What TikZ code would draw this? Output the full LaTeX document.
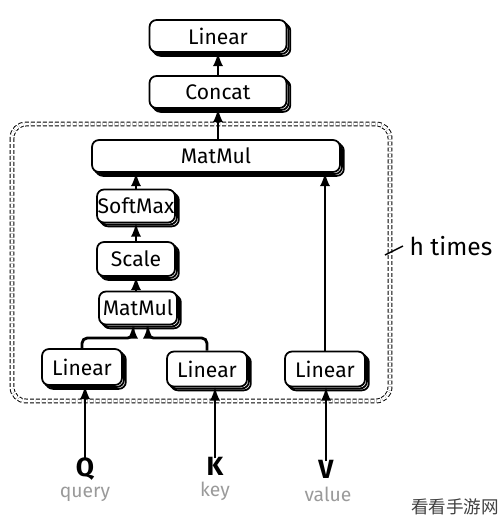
\documentclass[tikz,border=0pt]{standalone}
\usepackage{fontspec}
\setmainfont{Fira Sans}
\newfontfamily\cjkfont{Noto Sans CJK SC}
\usepackage{xcolor}
\usetikzlibrary{shadows}
\definecolor{lblgray}{HTML}{9A9A9A}
\tikzset{blk/.style={draw, line width=1pt, fill=white, rounded corners=4pt, inner sep=0pt,
    font=\fontsize{12}{14}\selectfont,
    general shadow={draw, line width=1pt, fill=white, shadow xshift=2.2pt, shadow yshift=-2.2pt},
    general shadow={draw, line width=1pt, fill=white, shadow xshift=1.1pt, shadow yshift=-1.1pt}}}
\tikzset{arr/.style={line width=1.6pt, ->}}

\begin{document}
\begin{tikzpicture}[x=0.2mm,y=-0.2mm,thick,>=latex]
    \useasboundingbox (0,0) rectangle (500,527);

    \coordinate (ma) at (133,338);
    \coordinate (mb) at (148,338);
    \coordinate (tk) at (385,255);

    % the repeated block
    \draw[dashed, double, double distance=1.7pt, line width=0.55pt, dash pattern=on 2.2pt off 1.2pt,
        rounded corners=8pt] (12,124) rectangle (390,401);

    \node[blk, minimum width=27.4mm, minimum height=6.4mm] (linout) at (218,36) {Linear};
    \node[blk, minimum width=27.4mm, minimum height=6.4mm] (concat) at (218,92) {Concat};
    \node[blk, minimum width=49.6mm, minimum height=6.4mm] (mmout) at (216,156) {MatMul};
    \node[blk, minimum width=15.6mm, minimum height=6.6mm] (smax) at (136,206) {SoftMax};
    \node[blk, minimum width=15.6mm, minimum height=6.8mm] (scale) at (136,259) {Scale};
    \node[blk, minimum width=15.6mm, minimum height=6.6mm] (mmin) at (138,308) {MatMul};
    \node[blk, minimum width=16mm, minimum height=7.2mm] (linq) at (82,367) {Linear};
    \node[blk, minimum width=16mm, minimum height=7mm] (link) at (207,369) {Linear};
    \node[blk, minimum width=16mm, minimum height=7mm] (linv) at (325,369) {Linear};

%labels
    \node[font=\bfseries\fontsize{15}{17}\selectfont] (q) at (85,469) {Q};
    \node[font=\bfseries\fontsize{15}{17}\selectfont] (k) at (215,466) {K};
    \node[font=\bfseries\fontsize{15}{17}\selectfont] (v) at (326,469) {V};
    \node[lblgray, font=\fontsize{11}{13}\selectfont] (qn) at (85,494) {query};
    \node[lblgray, font=\fontsize{11}{13}\selectfont] (kn) at (215,491) {key};
    \node[lblgray, font=\fontsize{11}{13}\selectfont] (vn) at (328,494) {value};
    \node[font=\fontsize{14}{16}\selectfont, anchor=west] (ht) at (403,246) {h times};
    \node[black!75, font=\cjkfont\fontsize{10}{12}\selectfont] (wm) at (455,507) {看看手游网};

    \draw[arr] (concat.north) -- (linout.south);
    \draw[arr] (mmout.north -| concat) -- (concat.south);
    \draw[arr] (smax.north) -- (smax.north |- mmout.south);
    \draw[arr] (scale.north) -- (smax.south);
    \draw[arr] (mmin.north -| scale) -- (scale.south);
    \draw[arr] (linv.north) -- (linv.north |- mmout.south);

    \draw[arr, rounded corners=3pt] (linq.north) |- (ma) -- (ma |- mmin.south);
    \draw[arr, rounded corners=3pt] (link.north) |- (mb) -- (mb |- mmin.south);

    \draw[arr, shorten <=-1.6mm] (q.north) -- (q.north |- linq.south);
    \draw[arr, shorten <=-1.6mm] (k.north) -- (k.north |- link.south);
    \draw[arr, shorten <=-1.6mm] (v.north) -- (v.north |- linv.south);

    \draw (tk) -- (ht.west);
\end{tikzpicture}
\end{document}
